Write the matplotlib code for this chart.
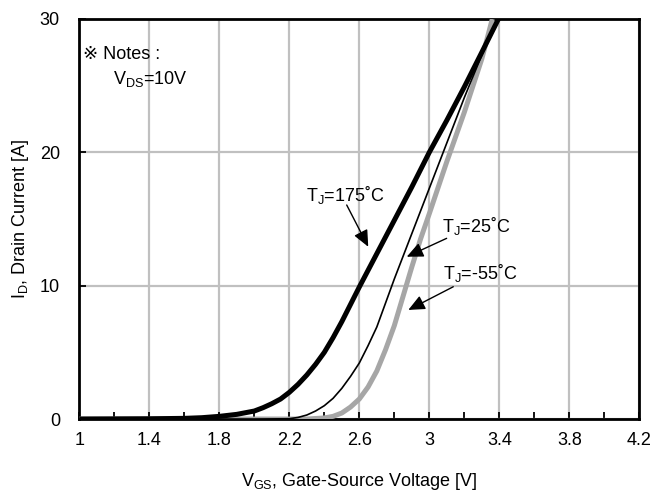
import matplotlib
matplotlib.use("Agg")
import matplotlib.pyplot as plt

plt.rcParams['font.family'] = ['Liberation Sans', 'DejaVu Sans']
plt.rcParams['mathtext.default'] = 'regular'

# ---- data ----
v_175 = [1.0, 1.2, 1.4, 1.6, 1.7, 1.8, 1.9, 2.0, 2.05, 2.1, 2.15, 2.2, 2.25, 2.3, 2.35,
         2.4, 2.45, 2.5, 2.55, 2.6, 2.65, 2.7, 2.8, 2.9, 3.0, 3.1, 3.2, 3.3, 3.395]
i_175 = [0, 0.01, 0.02, 0.05, 0.1, 0.2, 0.35, 0.6, 0.85, 1.15, 1.5, 2.0, 2.6, 3.3, 4.1,
         5.0, 6.1, 7.3, 8.6, 9.9, 11.15, 12.4, 14.9, 17.4, 20.0, 22.4, 24.9, 27.5, 30]

v_25 = [1.0, 2.0, 2.2, 2.25, 2.3, 2.35, 2.4, 2.45, 2.5, 2.55, 2.6, 2.65, 2.7, 2.75,
        2.8, 2.85, 2.9, 3.0, 3.1, 3.2, 3.3, 3.385]
i_25 = [0, 0, 0.02, 0.12, 0.3, 0.6, 1.0, 1.55, 2.3, 3.2, 4.2, 5.5, 6.9, 8.7,
        10.5, 12.2, 13.9, 17.3, 20.7, 24.1, 27.3, 30]

v_m55 = [1.0, 2.3, 2.4, 2.45, 2.5, 2.55, 2.6, 2.65, 2.7, 2.75, 2.8, 2.85, 2.9, 2.95,
         3.0, 3.1, 3.2, 3.3, 3.36]
i_m55 = [0, 0, 0.08, 0.2, 0.45, 0.9, 1.5, 2.4, 3.6, 5.2, 7.0, 9.2, 11.4, 13.5,
         15.4, 19.3, 23.0, 27.0, 30]

x_ticks = [1, 1.4, 1.8, 2.2, 2.6, 3.0, 3.4, 3.8, 4.2]
x_tick_labels = ['1', '1.4', '1.8', '2.2', '2.6', '3', '3.4', '3.8', '4.2']
y_ticks = [0, 10, 20, 30]

fig = plt.figure(figsize=(6.54, 4.97), dpi=100)
ax = fig.add_axes([0.1213, 0.1569, 0.8562, 0.8049])

ax.plot(v_m55, i_m55, color='#a6a6a6', lw=3.6, solid_capstyle='butt', zorder=3)
ax.plot(v_175, i_175, color='black', lw=3.6, solid_capstyle='butt', zorder=4)
ax.plot(v_25, i_25, color='black', lw=1.2, zorder=5)

ax.set_xlim(1, 4.2)
ax.set_ylim(0, 30)
ax.set_xticks(x_ticks)
ax.set_xticklabels(x_tick_labels)
ax.set_xticks([1.2 + 0.4 * k for k in range(8)], minor=True)
ax.set_yticks(y_ticks)
ax.grid(True, which='major', color='#c0c0c0', lw=1.6, zorder=1)
ax.set_axisbelow(True)
ax.tick_params(which='both', direction='in', length=5, width=1.3, labelsize=13,
               right=False, top=False)
ax.tick_params(axis='x', pad=9)
ax.tick_params(axis='y', pad=14)
for s in ax.spines.values():
    s.set_linewidth(2)
    s.set_color('black')

ax.set_xlabel('V$_{GS}$, Gate-Source Voltage [V]', fontsize=13, labelpad=16)
ax.set_ylabel('I$_{D}$, Drain Current [A]', fontsize=13, labelpad=6)

ax.text(1.02, 27.3, '※ Notes :', fontsize=13, va='center', ha='left')
ax.text(1.19, 25.5, 'V$_{DS}$=10V', fontsize=13, va='center', ha='left')

arrow = dict(arrowstyle='-|>,head_length=1.0,head_width=0.45', color='black',
             lw=1.0, shrinkA=0, shrinkB=0)
ax.annotate('', xy=(2.651, 12.92), xytext=(2.528, 16.05), arrowprops=arrow, zorder=6)
ax.annotate('', xy=(2.871, 12.17), xytext=(3.099, 13.55), arrowprops=arrow, zorder=6)
ax.annotate('', xy=(2.88, 8.18), xytext=(3.137, 9.92), arrowprops=arrow, zorder=6)

ax.text(2.518, 16.8, 'T$_J$=175˚C', fontsize=13, ha='center', va='center')
ax.text(3.071, 14.5, 'T$_J$=25˚C', fontsize=13, ha='left', va='center')
ax.text(3.078, 10.95, 'T$_J$=-55˚C', fontsize=13, ha='left', va='center')

fig.savefig('out.png', dpi=100)
